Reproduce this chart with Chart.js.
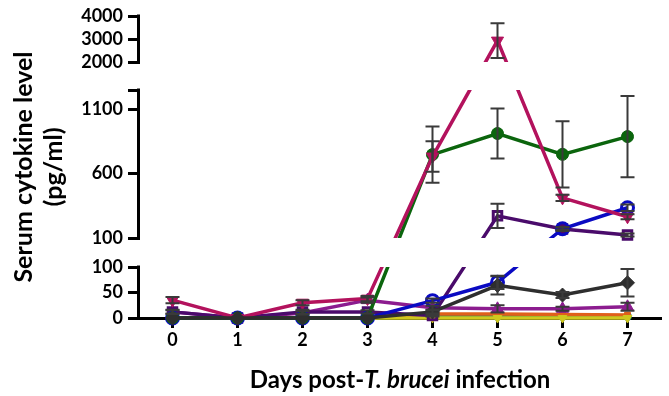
<!DOCTYPE html>
<html>
<head>
<meta charset="utf-8">
<script src="https://cdn.jsdelivr.net/npm/chart.js@4.4.0/dist/chart.umd.min.js"></script>
<style>
    html, body { margin: 0; padding: 0; background: #fff; }
    #wrap { position: relative; width: 669px; height: 396px; }
</style>
</head>
<body>
<div id="wrap"><canvas id="cytokineChart"></canvas></div>
<script>
// --- data ---
const days = ['0', '1', '2', '3', '4', '5', '6', '7'];

const greenCircle = [0, 0, 0, 0, 748, 912, 750, 888];
const greenCircleErr = [0, 0, 0, 0, 218, 195, 258, 316];

const crimsonTriDown = [35, 0, 30, 38, 733, 2930, 412, 265];
const crimsonTriDownErr = [6, 0, 5, 5, 118, 755, 25, 20];

const blueOpenCircle = [0, 0, 0, 0, 34, 70, 172, 335];
const blueOpenCircleErr = [0, 0, 0, 0, 4, 13, 10, 25];

const purpleOpenSquare = [12, 0, 12, 12, 5, 272, 170, 123];
const purpleOpenSquareErr = [4, 0, 4, 3, 2, 95, 15, 12];

const violetTriUp = [12, 0, 10, 35, 20, 18, 18, 22];
const violetTriUpErr = [3, 0, 3, 5, 4, 7, 4, 8];

const grayDiamond = [0, 0, 0, 0, 12, 64, 45, 69];
const grayDiamondErr = [0, 0, 0, 0, 3, 18, 6, 27];

const orangeSquare = [0, 0, 0, 0, 8, 8, 7, 6];
const tealCircle = [0, 0, 0, 0, 3, 3, 3, 3];
const yellowTri = [0, 0, 0, 0, 0, 0, 0, 0];

// y axis is broken into three pieces, bottom to top
const yPieces = [
    { min: 0, max: 100, ticks: [0, 50, 100] },
    { min: 100, max: 1250, ticks: [100, 600, 1100, 1250] },
    { min: 2000, max: 4000, ticks: [2000, 3000, 4000] }
];
const unlabeledTicks = [1250];
const pieceHeights = [51, 148, 46];
const gapHeights = [29, 28];

const xTitleParts = [
    { text: 'Days post-', style: 'normal' },
    { text: 'T. brucei', style: 'italic' },
    { text: ' infection', style: 'normal' }
];
const yTitle = ['Serum cytokine level', '(pg/ml)'];

// piecewise linear scale: straight lines run through the gaps (gaps get clipped)
class BrokenScale extends Chart.LinearScale {
    static id = 'broken';

    buildTicks() {
        this.start = this.min;
        this.end = this.max;
        const ticks = [];
        yPieces.forEach((p, i) => {
            p.ticks.forEach(v => ticks.push({ value: v, piece: i, blank: unlabeledTicks.includes(v) && i === 1 }));
        });
        return ticks;
    }

    pieceBounds(i) {
        const total = pieceHeights.reduce((a, b) => a + b, 0) + gapHeights.reduce((a, b) => a + b, 0);
        const k = (this.bottom - this.top) / total;
        let off = 0;
        for (let j = 0; j < i; j++) off += pieceHeights[j] + gapHeights[j];
        const bottom = this.bottom - off * k;
        return [bottom, bottom - pieceHeights[i] * k];
    }

    pixelIn(i, v) {
        const [b, t] = this.pieceBounds(i);
        const p = yPieces[i];
        return b - (v - p.min) / (p.max - p.min) * (b - t);
    }

    getPixelForValue(v) {
        if (v === null || v === undefined) return NaN;
        if (v <= yPieces[0].max) return this.pixelIn(0, v);
        for (let i = 1; i < yPieces.length; i++) {
            const p = yPieces[i];
            const prev = yPieces[i - 1];
            if (v < p.min) {
                const lo = this.pixelIn(i - 1, prev.max);
                const hi = this.pixelIn(i, p.min);
                return lo + (v - prev.max) / (p.min - prev.max) * (hi - lo);
            }
            if (v <= p.max) return this.pixelIn(i, v);
        }
        return this.pixelIn(yPieces.length - 1, v);
    }

    getPixelForTick(index) {
        const t = this.ticks[index];
        if (!t) return null;
        return this.pixelIn(t.piece, t.value);
    }
}
Chart.register(BrokenScale);

const series = [
    { data: tealCircle, color: '#12876a', style: 'circle', radius: 4, filled: true },
    { data: orangeSquare, color: '#e0601a', style: 'rect', radius: 4, filled: true },
    { data: yellowTri, color: '#cfc81e', style: 'triangle', rotation: 180, radius: 5, filled: true },
    { data: violetTriUp, err: violetTriUpErr, color: '#8c1c8f', style: 'triangle', radius: 7, filled: true },
    { data: purpleOpenSquare, err: purpleOpenSquareErr, color: '#4a0b6b', style: 'rect', radius: 6, filled: false },
    { data: blueOpenCircle, err: blueOpenCircleErr, color: '#0a0ac2', style: 'circle', radius: 6, filled: false },
    { data: greenCircle, err: greenCircleErr, color: '#0b650d', style: 'circle', radius: 6, filled: true },
    { data: crimsonTriDown, err: crimsonTriDownErr, color: '#b3125d', style: 'triangle', rotation: 180, radius: 7, filled: true },
    { data: grayDiamond, err: grayDiamondErr, color: '#2e2e2e', style: 'rectRot', radius: 7, filled: true }
];

// each series = a clipped line dataset + an unclipped marker dataset
const datasets = [];
series.forEach(s => {
    datasets.push({
        data: s.data,
        borderColor: s.color,
        borderWidth: 3.5,
        pointRadius: 0,
        fill: false,
        clip: false,
        pieceClip: true
    });
    datasets.push({
        data: s.data,
        showLine: false,
        pointStyle: s.style,
        pointRotation: s.rotation || 0,
        pointRadius: s.radius,
        pointBorderWidth: s.filled ? 1 : 3,
        pointBorderColor: s.color,
        pointBackgroundColor: s.filled ? s.color : 'rgba(255,255,255,0)',
        clip: false,
        err: s.err
    });
});
datasets.forEach((d, i) => { d.order = -i; });

const brokenAxisPlugin = {
    id: 'brokenAxis',
    beforeDatasetDraw(chart, args) {
        if (!chart.data.datasets[args.index].pieceClip) return;
        const { ctx, chartArea } = chart;
        const y = chart.scales.y;
        ctx.save();
        ctx.beginPath();
        yPieces.forEach((p, i) => {
            const [b, t] = y.pieceBounds(i);
            const bot = i === 0 ? b + 12 : b;
            ctx.rect(chartArea.left, t, chartArea.right - chartArea.left, bot - t);
        });
        ctx.clip();
    },
    afterDatasetDraw(chart, args) {
        if (chart.data.datasets[args.index].pieceClip) chart.ctx.restore();
    },
    beforeDatasetsDraw(chart) {
        // axis line in pieces
        const { ctx, chartArea } = chart;
        const y = chart.scales.y;
        ctx.save();
        ctx.strokeStyle = '#000';
        ctx.lineWidth = 3;
        yPieces.forEach((p, i) => {
            const [b, t] = y.pieceBounds(i);
            ctx.beginPath();
            ctx.moveTo(chartArea.left - 1.5, b + (i === 0 ? 1.5 : 0));
            ctx.lineTo(chartArea.left - 1.5, t - 1.5);
            ctx.stroke();
        });
        ctx.restore();
    },
    afterDatasetsDraw(chart) {
        // error bars
        const { ctx } = chart;
        const x = chart.scales.x;
        const y = chart.scales.y;
        ctx.save();
        ctx.strokeStyle = '#3a3a3a';
        ctx.lineWidth = 2;
        chart.data.datasets.forEach(ds => {
            if (!ds.err) return;
            ds.data.forEach((v, i) => {
                const e = ds.err[i];
                if (!e) return;
                const px = x.getPixelForValue(i);
                const top = y.getPixelForValue(v + e);
                const bot = y.getPixelForValue(Math.max(v - e, 0));
                ctx.beginPath();
                ctx.moveTo(px, top);
                ctx.lineTo(px, bot);
                ctx.moveTo(px - 7, top);
                ctx.lineTo(px + 7, top);
                if (v - e > 0) {
                    ctx.moveTo(px - 7, bot);
                    ctx.lineTo(px + 7, bot);
                }
                ctx.stroke();
            });
        });
        ctx.restore();
    },
    afterDraw(chart) {
        // x title with italic species name
        const { ctx, chartArea } = chart;
        ctx.save();
        ctx.fillStyle = '#000';
        ctx.textBaseline = 'middle';
        const fontFor = st => `${st} bold 24px Lato`;
        let width = 0;
        xTitleParts.forEach(p => { ctx.font = fontFor(p.style); width += ctx.measureText(p.text).width; });
        let cx = (chartArea.left + chartArea.right) / 2 - width / 2;
        xTitleParts.forEach(p => {
            ctx.font = fontFor(p.style);
            ctx.fillText(p.text, cx, 380);
            cx += ctx.measureText(p.text).width;
        });
        ctx.restore();
    }
};

Chart.defaults.font.family = 'Lato';
Chart.defaults.font.weight = 'bold';
Chart.defaults.color = '#000';

new Chart(document.getElementById('cytokineChart'), {
    type: 'line',
    data: { labels: days, datasets },
    options: {
        responsive: true,
        maintainAspectRatio: false,
        animation: false,
        events: [],
        layout: { padding: { top: 16, left: 0, right: 0, bottom: 0 } },
        plugins: { legend: { display: false }, tooltip: { enabled: false } },
        scales: {
            x: {
                type: 'category',
                offset: true,
                grid: { display: true, drawOnChartArea: false, offset: false, color: '#000', lineWidth: 3, tickLength: 10 },
                border: { display: true, color: '#000', width: 3 },
                ticks: { color: '#000', font: { size: 18, weight: 'bold' }, padding: 1, maxRotation: 0 },
                afterFit: s => { s.height = 78; }
            },
            y: {
                type: 'broken',
                min: 0,
                max: 4000,
                grid: { drawOnChartArea: false, color: '#000', lineWidth: 3, tickLength: 12 },
                border: { display: false },
                ticks: {
                    autoSkip: false,
                    color: '#000',
                    font: { size: 18, weight: 'bold' },
                    padding: 5,
                    callback: (v, i, t) => (t[i] && t[i].blank) ? '' : String(v)
                },
                title: {
                    display: true,
                    text: yTitle,
                    color: '#000',
                    font: { size: 25, weight: 'bold', lineHeight: 1.2 },
                    padding: { top: 9, bottom: 0 }
                },
                afterFit: s => { s.width = 140; }
            }
        }
    },
    plugins: [brokenAxisPlugin]
});
</script>
</body>
</html>
